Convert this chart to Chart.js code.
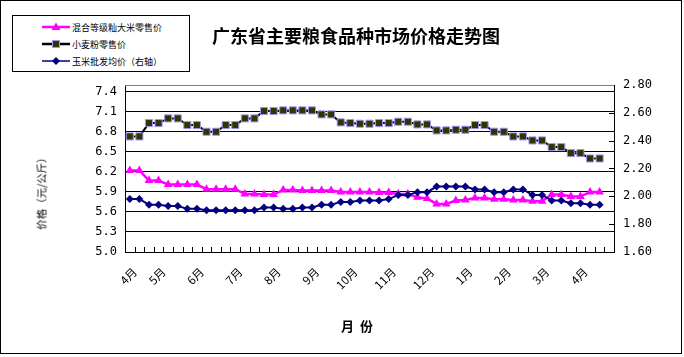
<!DOCTYPE html>
<html><head><meta charset="utf-8">
<script src="https://cdn.jsdelivr.net/npm/chart.js@4/dist/chart.umd.min.js"></script>
<style>
html,body{margin:0;padding:0;background:#fff;}
#wrap{position:relative;width:684px;height:357px;overflow:hidden;}
#c{position:absolute;left:0;top:0;}
.t{position:absolute;white-space:nowrap;color:#000;font-family:"Noto Sans CJK SC","Noto Sans",sans-serif;}
#legend{position:absolute;left:12px;top:15px;width:176px;height:55px;border:1px solid #000;background:#fff;}
.lg{position:absolute;left:29px;height:12px;display:flex;align-items:center;font-size:9px;font-family:"Noto Sans CJK SC",sans-serif;}
.lg svg{margin-right:2px;}
</style></head>
<body>
<div id="wrap">
<canvas id="c" width="684" height="357"></canvas>
<div class="t" style="left:356px;top:35px;transform:translate(-50%,-50%);font-size:18px;font-weight:bold;">广东省主要粮食品种市场价格走势图</div>
<div class="t" style="left:41px;top:191px;transform:translate(-50%,-50%) rotate(-90deg);font-size:10.5px;">价格（元/公斤）</div>
<div class="t" style="left:357px;top:325px;transform:translate(-50%,-50%);font-size:13px;font-weight:bold;">月&nbsp;&nbsp;份</div>
<div id="legend">
 <div class="lg" style="top:5px"><svg width="28" height="10"><line x1="0" y1="5" x2="28" y2="5" stroke="#FF00FF" stroke-width="2.5"/><polygon points="14,0.5 18.5,8 9.5,8" fill="#FF00FF"/></svg><span>混合等级籼大米零售价</span></div>
 <div class="lg" style="top:22px"><svg width="28" height="10"><line x1="0" y1="5" x2="28" y2="5" stroke="#000" stroke-width="2.5"/><rect x="10.5" y="1.5" width="7" height="7" fill="#333300" stroke="#9999FF" stroke-width="1"/></svg><span>小麦粉零售价</span></div>
 <div class="lg" style="top:39px"><svg width="28" height="10"><line x1="0" y1="5" x2="28" y2="5" stroke="#000080" stroke-width="1.5"/><polygon points="14,1 18,5 14,9 10,5" fill="#000080"/></svg><span>玉米批发均价（右轴）</span></div>
</div>
</div>
<script>
// ---- data ----
const monthLabels = ["4月","","","5月","","","","6月","","","","7月","","","","8月","","","","9月","","","","10月","","","","11月","","","","12月","","","","1月","","","","2月","","","","3月","","","","4月","","",""];
const riceRetail = [6.22,6.22,6.07,6.07,6.01,6.01,6.01,6.01,5.94,5.94,5.94,5.94,5.87,5.87,5.86,5.86,5.93,5.93,5.92,5.92,5.92,5.92,5.90,5.90,5.90,5.90,5.89,5.89,5.87,5.87,5.82,5.80,5.72,5.72,5.77,5.78,5.81,5.81,5.79,5.79,5.78,5.78,5.76,5.76,5.86,5.86,5.83,5.83,5.90,5.90];
const flourRetail = [6.73,6.73,6.93,6.93,7.00,7.00,6.90,6.90,6.80,6.80,6.90,6.90,7.00,7.00,7.11,7.11,7.12,7.12,7.12,7.12,7.06,7.06,6.94,6.93,6.92,6.92,6.93,6.93,6.95,6.95,6.91,6.91,6.82,6.82,6.83,6.83,6.90,6.90,6.80,6.80,6.73,6.73,6.67,6.67,6.57,6.57,6.48,6.48,6.40,6.40];
const cornWholesale = [1.98,1.98,1.94,1.94,1.93,1.93,1.91,1.91,1.90,1.90,1.90,1.90,1.90,1.90,1.92,1.92,1.91,1.91,1.92,1.92,1.94,1.94,1.96,1.96,1.97,1.97,1.97,1.98,2.01,2.01,2.03,2.03,2.07,2.07,2.07,2.07,2.05,2.05,2.03,2.03,2.05,2.05,2.01,2.01,1.97,1.97,1.95,1.95,1.94,1.94];
const leftTicks = [5.0,5.3,5.6,5.9,6.2,6.5,6.8,7.1,7.4];
const rightTicks = [1.60,1.80,2.00,2.20,2.40,2.60,2.80];

const frame = {
  id:'frame',
  afterDraw(chart){
    const {ctx, chartArea:a, scales} = chart;
    ctx.save();
    ctx.strokeStyle='#000'; ctx.lineWidth=1;
    const xs = scales.x, n = monthLabels.length;
    ctx.beginPath();
    for(let i=0;i<=n;i++){
      let px;
      if(i===0) px=a.left; else if(i===n) px=a.right;
      else px=(xs.getPixelForValue(i-1)+xs.getPixelForValue(i))/2;
      px=Math.round(px)+0.5;
      ctx.moveTo(px,a.bottom); ctx.lineTo(px,a.bottom-5);
    }
    const yr = scales.y1;
    rightTicks.forEach(v=>{
      const py=Math.round(yr.getPixelForValue(v))+0.5;
      ctx.moveTo(a.right,py); ctx.lineTo(a.right-5,py);
    });
    ctx.stroke();
    ctx.strokeStyle='#808080';
    ctx.beginPath();
    ctx.moveTo(a.left,Math.round(a.top)+0.5); ctx.lineTo(a.right,Math.round(a.top)+0.5);
    ctx.stroke();
    ctx.strokeStyle='#000';
    ctx.strokeRect(0.5,0.5,681,353);
    ctx.restore();
  }
};

new Chart(document.getElementById('c'),{
  type:'line',
  data:{
    labels:monthLabels,
    datasets:[
      {label:'混合等级籼大米零售价',data:riceRetail,yAxisID:'y',borderColor:'#FF00FF',backgroundColor:'#FF00FF',borderWidth:2.5,pointStyle:'triangle',pointRadius:5,pointBorderWidth:0,pointBackgroundColor:'#FF00FF',tension:0,order:2},
      {label:'小麦粉零售价',data:flourRetail,yAxisID:'y',borderColor:'#000',backgroundColor:'#333300',borderWidth:2,pointStyle:'rect',pointRadius:5,pointBorderWidth:1,pointBorderColor:'#9999FF',pointBackgroundColor:'#333300',tension:0,order:1},
      {label:'玉米批发均价（右轴）',data:cornWholesale,yAxisID:'y1',borderColor:'#000080',backgroundColor:'#000080',borderWidth:2,pointStyle:'rectRot',pointRadius:4,pointBorderWidth:0,pointBackgroundColor:'#000080',tension:0,order:0}
    ]
  },
  options:{
    responsive:false,
    animation:false,
    devicePixelRatio:1,
    layout:{padding:{top:85,left:0,right:0,bottom:0}},
    plugins:{legend:{display:false},title:{display:false},tooltip:{enabled:false}},
    scales:{
      x:{
        type:'category',offset:true,
        grid:{display:true,drawOnChartArea:false,drawTicks:false},
        border:{display:true,color:'#000',width:1},
        ticks:{autoSkip:false,maxRotation:45,minRotation:45,padding:13,labelOffset:5,color:'#000',font:{family:'"Noto Sans CJK SC",sans-serif',size:11.5}},
        afterFit(s){s.height=105;}
      },
      y:{
        position:'left',min:5.0,max:7.5,
        afterBuildTicks(s){s.ticks=leftTicks.map(v=>({value:v}));},
        grid:{color:'#000',lineWidth:1,drawTicks:false},
        border:{display:true,color:'#000',width:1},
        ticks:{padding:8,color:'#000',font:{family:'"DejaVu Sans Mono",monospace',size:12},callback:v=>Number(v).toFixed(1)},
        afterFit(s){s.width=125;}
      },
      y1:{
        position:'right',min:1.6,max:2.8,
        afterBuildTicks(s){s.ticks=rightTicks.map(v=>({value:v}));},
        grid:{display:true,drawOnChartArea:false,drawTicks:false},
        border:{display:true,color:'#000',width:1},
        ticks:{padding:9,color:'#000',font:{family:'"DejaVu Sans Mono",monospace',size:12},callback:v=>Number(v).toFixed(2)},
        afterFit(s){s.width=70;}
      }
    }
  },
  plugins:[frame]
});
</script>
</body></html>
